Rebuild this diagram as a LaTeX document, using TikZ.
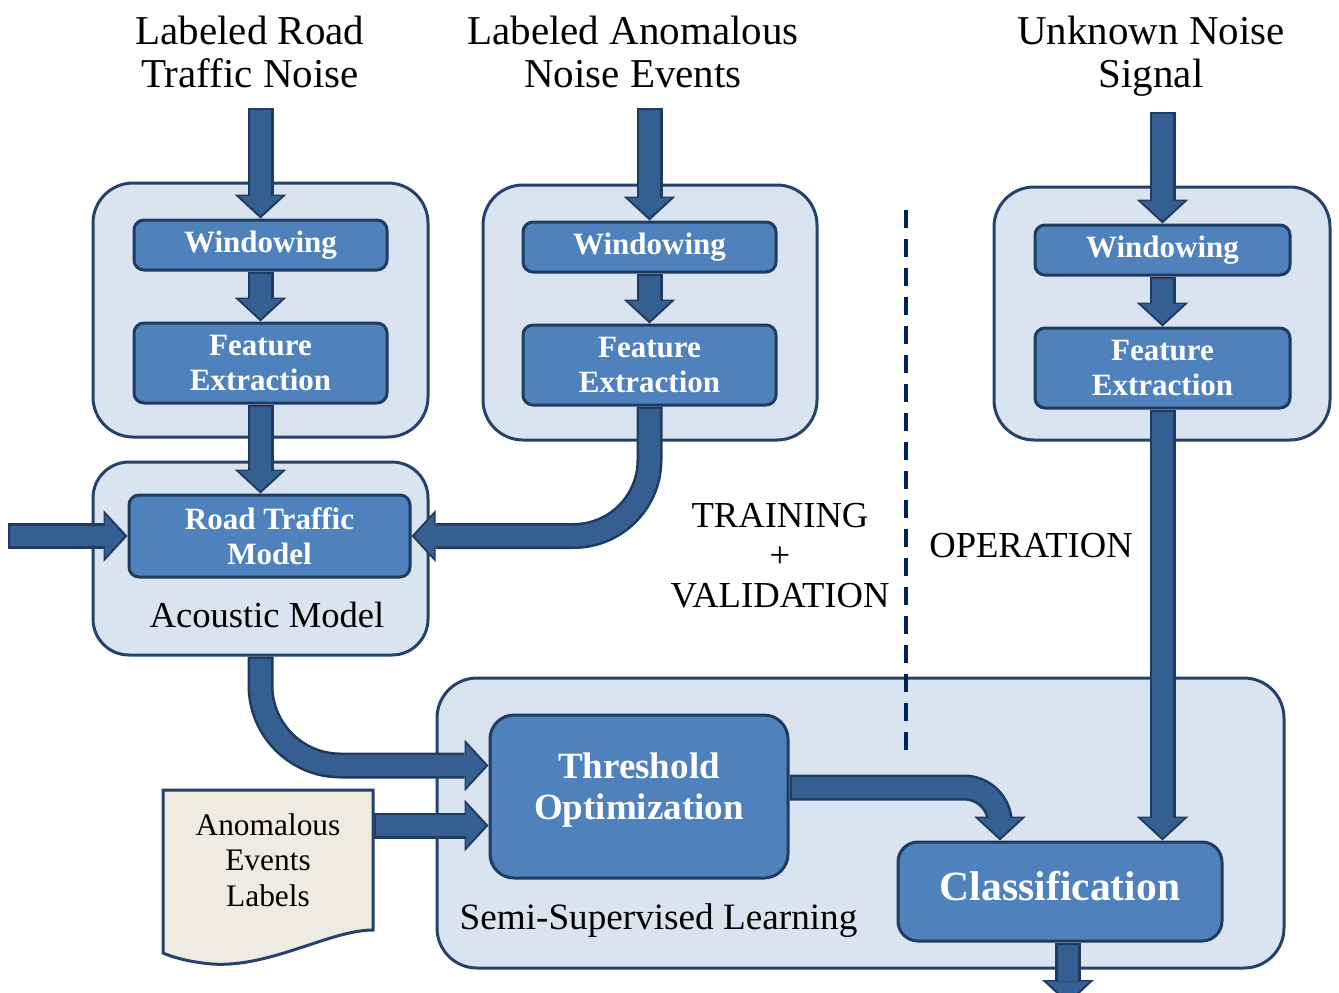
\documentclass[tikz,border=0pt]{standalone}
\usepackage{fontspec}
\setmainfont{Liberation Serif}
\usepackage{tikz}
\usetikzlibrary{arrows.meta, backgrounds}
\definecolor{grpFill}{HTML}{DAE3F0}
\definecolor{grpLine}{HTML}{24426A}
\definecolor{boxFill}{HTML}{4F81BD}
\definecolor{boxLine}{HTML}{1F3B5F}
\definecolor{arrFill}{HTML}{365F91}
\definecolor{arrLine}{HTML}{1F3B5F}
\definecolor{docFill}{HTML}{EEECE1}
\definecolor{splitNavy}{HTML}{002060}

\begin{document}
\begin{tikzpicture}[x=0.5pt, y=-0.5pt,
    grpbox/.style={draw=grpLine, fill=grpFill, line width=1.5pt, rounded corners=20pt, inner sep=0pt},
    procbox/.style={draw=boxLine, fill=boxFill, line width=1.5pt, rounded corners=5pt, inner sep=0pt,
      text=white, align=center, font=\fontsize{15.5}{17.5}\selectfont\bfseries},
    intitle/.style={align=center, font=\fontsize{20.5}{21.5}\selectfont},
    phasetext/.style={align=center, font=\fontsize{18.3}{20}\selectfont},
    fatarrow/.style={draw=arrLine, line width=13pt, -{Triangle[width=26pt,length=12pt,line width=0pt]},
      postaction={draw=arrFill, line width=10.4pt, shorten >=1.5pt, shorten <=1.2pt,
        -{Triangle[width=21.6pt,length=9.8pt,line width=0pt]}}}]
  \useasboundingbox (0,0) rectangle (1339,992);

  % Input signals
  \node[intitle] (tRoad) at (250,52) {Labeled Road\\Traffic Noise};
  \node[intitle] (tAnom) at (633,52) {Labeled Anomalous\\Noise Events};
  \node[intitle] (tUnk) at (1151,56) {Unknown Noise\\Signal};

  % Panels
  \begin{scope}[on background layer]
    \node[grpbox, minimum width=167.5pt, minimum height=127pt] (grpRoad) at (260.5,310) {};
    \node[grpbox, minimum width=167pt, minimum height=127.5pt] (grpAnom) at (650,312.5) {};
    \node[grpbox, minimum width=168pt, minimum height=126.5pt] (grpUnk) at (1162,313.5) {};
    \node[grpbox, rounded corners=18pt, minimum width=167.5pt, minimum height=96.5pt] (grpAcou) at (260.5,558.5) {};
    \node[grpbox, minimum width=423.5pt, minimum height=145pt] (grpSemi) at (860.5,823) {};
    % Training / operation split
    \draw[splitNavy, line width=2pt, dash pattern=on 9pt off 5.5pt] (906,210) -- (906,755);
  \end{scope}

  % Front ends
  \node[procbox, minimum width=126.5pt, minimum height=25pt] (winRoad) at (260.5,245) {Windowing};
  \node[procbox, minimum width=126.5pt, minimum height=40pt] (featRoad) at (260.5,363) {Feature\\Extraction};
  \node[procbox, minimum width=126.5pt, minimum height=25pt] (winAnom) at (649.5,247) {Windowing};
  \node[procbox, minimum width=126.5pt, minimum height=40pt] (featAnom) at (649.5,365) {Feature\\Extraction};
  \node[procbox, minimum width=127.5pt, minimum height=25pt] (winUnk) at (1162.5,250) {Windowing};
  \node[procbox, minimum width=127.5pt, minimum height=40pt] (featUnk) at (1162.5,368) {Feature\\Extraction};

  % Acoustic model
  \node[procbox, minimum width=140.5pt, minimum height=41pt] (rtm) at (269.5,536) {Road Traffic\\Model};
  \node[phasetext] (acou) at (267,615) {Acoustic Model};

  % Semi-supervised part
  \node[procbox, rounded corners=12pt, minimum width=149pt, minimum height=81.5pt, text depth=10pt,
    font=\fontsize{18.5}{20.5}\selectfont\bfseries] (thr) at (639,796.5) {Threshold\\Optimization};
  \node[procbox, rounded corners=10pt, minimum width=162pt, minimum height=49.5pt, text depth=6pt,
    font=\fontsize{20.8}{22}\selectfont\bfseries] (cls) at (1060,891.5) {Classification};
  \node[phasetext, font=\fontsize{18.6}{20}\selectfont] (semi) at (658.5,921) {Semi-Supervised Learning};

  % Label file
  \draw[draw=grpLine, fill=docFill, line width=1.5pt] (163,790) -- (373,790) -- (373,930)
    .. controls (330,930) and (270,968) .. (212,964)
    .. controls (190,962) and (175,958) .. (163,953) -- cycle;
  \node[align=center, inner sep=0pt, minimum width=105pt, minimum height=70pt,
    font=\fontsize{15.7}{17.75}\selectfont] (doc) at (268,860) {Anomalous\\Events\\Labels};

  % Phase names
  \node[phasetext] (train) at (780,556) {TRAINING\\+\\VALIDATION};
  \node[phasetext] (oper) at (1031,546) {OPERATION};

  % Helper points
  \coordinate (inRoad) at (winRoad.north |- 0,108);
  \coordinate (inAnom) at (winAnom.north |- 0,108);
  \coordinate (inUnk) at (winUnk.north |- 0,112);
  \coordinate (trIn) at (rtm.west -| 8,0);
  \coordinate (thrIn) at ([yshift=15.5pt]thr.west);
  \coordinate (labIn) at ([yshift=-14.5pt]thr.west);
  \coordinate (thrOut) at ([yshift=4.5pt]thr.east);
  \coordinate (clsIn) at ([xshift=-30pt]cls.north);
  \coordinate (clsBot) at ([xshift=4pt]cls.south);
  \coordinate (clsOut) at (clsBot |- 0,1004);

  % Block arrows
  \begin{scope}[on background layer]
    \draw[fatarrow] (inRoad) -- (winRoad.north);
    \draw[fatarrow] (winRoad.south) -- (featRoad.north);
    \draw[fatarrow] (featRoad.south) -- (featRoad.south |- rtm.north);
    \draw[fatarrow] (inAnom) -- (winAnom.north);
    \draw[fatarrow] (winAnom.south) -- (featAnom.north);
    \draw[fatarrow, rounded corners=38pt] (featAnom.south) |- (rtm.east);
    \draw[fatarrow] (inUnk) -- (winUnk.north);
    \draw[fatarrow] (winUnk.south) -- (featUnk.north);
    \draw[fatarrow] (featUnk.south) -- (featUnk.south |- cls.north);
    \draw[fatarrow] (trIn) -- (rtm.west);
    \draw[fatarrow, rounded corners=40pt] (grpAcou.south) |- (thrIn);
    \draw[fatarrow] (doc.east |- labIn) -- (labIn);
    \draw[fatarrow, rounded corners=18pt] (thrOut) -| (clsIn);
    \draw[fatarrow] (clsBot) -- (clsOut);
  \end{scope}
\end{tikzpicture}
\end{document}
